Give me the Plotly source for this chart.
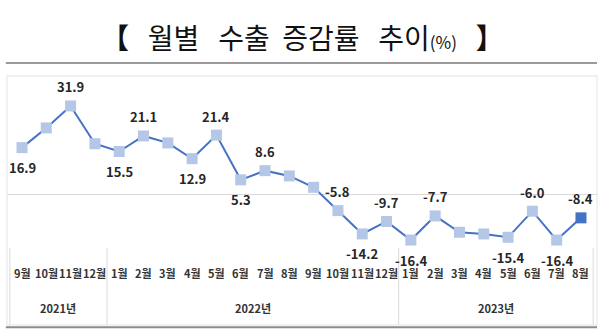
import plotly.graph_objects as go

months = ["9월", "10월", "11월", "12월",
          "1월", "2월", "3월", "4월", "5월", "6월", "7월", "8월", "9월", "10월", "11월", "12월",
          "1월", "2월", "3월", "4월", "5월", "6월", "7월", "8월"]
values = [16.9, 24.0, 31.9, 18.3,
          15.5, 21.1, 18.6, 12.9, 21.4, 5.3, 8.6, 6.7, 2.6, -5.8, -14.2, -9.7,
          -16.4, -7.7, -13.6, -14.2, -15.4, -6.0, -16.4, -8.4]
label_side = ["below", None, "above", None,
              "below", "above", None, "below", "above", "below", "above", None, None, "above", "below", "above",
              "below", "above", None, None, "below", "above", "below", "above"]
years = ["2021년", "2022년", "2023년"]
year_spans = [(0, 3), (4, 15), (16, 23)]

x = list(range(len(values)))
FONT = "Noto Sans CJK KR"

marker_colors = ["#b4c7e7"] * (len(values) - 1) + ["#4472c4"]

fig = go.Figure()
fig.add_trace(go.Scatter(
    x=x, y=values, mode="lines+markers",
    line=dict(color="#4472c4", width=2),
    marker=dict(symbol="square", size=11, color=marker_colors, line=dict(width=0)),
    hoverinfo="skip", cliponaxis=False,
))

annotations = []
for i, (v, side) in enumerate(zip(values, label_side)):
    if side is None:
        continue
    annotations.append(dict(
        x=i, y=v, xref="x", yref="y", text=f"{v:.1f}", showarrow=False,
        yshift=19 if side == "above" else -20,
        font=dict(family=FONT, size=13, color="#262626", weight="bold"),
    ))

# month labels
for i, m in enumerate(months):
    annotations.append(dict(
        x=i, y=0.209, xref="x", yref="paper", text=m, showarrow=False,
        yanchor="top", yshift=10,
        font=dict(family=FONT, size=11, color="#333333", weight="bold"),
    ))
# year labels
for (a, b), yl in zip(year_spans, years):
    annotations.append(dict(
        x=(a + b) / 2, y=0.072, xref="x", yref="paper", text=yl, showarrow=False,
        yanchor="top", yshift=9,
        font=dict(family=FONT, size=11, color="#333333", weight="bold"),
    ))

# title
sp = "&nbsp;"
annotations.append(dict(
    x=0.5, y=1.157, xref="paper", yref="paper", showarrow=False,
    text=("<b>【</b>" + sp * 3 + "월별" + sp * 3 + "수출" + sp * 2 + "증감률" + sp * 3 + "추이"
          + "<span style='font-size:17px'>(%)</span>" + sp * 3 + "<b>】</b>"),
    font=dict(family=FONT, size=28, color="#111111"),
    xanchor="center", yanchor="middle",
))

shapes = []
# separators
for sx in [-0.5, 3.5, 15.5, 23.5]:
    shapes.append(dict(type="line", xref="x", yref="paper", x0=sx, x1=sx, y0=0, y1=0.31,
                       line=dict(color="#d9d9d9", width=1)))
# plot box
shapes.append(dict(type="rect", xref="paper", yref="paper", x0=0, x1=1, y0=0, y1=1,
                   line=dict(color="#e3e3e3", width=1)))
# title underline and bottom rule
shapes.append(dict(type="line", xref="paper", yref="paper", x0=-0.002, x1=1.0, y0=1.052, y1=1.052,
                   line=dict(color="#9a9a9a", width=2)))
shapes.append(dict(type="line", xref="paper", yref="paper", x0=-0.002, x1=1.0, y0=-0.009, y1=-0.009,
                   line=dict(color="#8c8c8c", width=2)))

fig.update_layout(
    width=600, height=336,
    margin=dict(l=7, r=3, t=76, b=11),
    paper_bgcolor="white", plot_bgcolor="white",
    showlegend=False,
    xaxis=dict(range=[-0.617, 23.659], showgrid=False, zeroline=False, showticklabels=False,
               ticks="", showline=False, fixedrange=True),
    yaxis=dict(range=[-47.0, 42.7], showgrid=False, zeroline=True, zerolinecolor="#d9d9d9",
               zerolinewidth=1, showticklabels=False, ticks="", showline=False, fixedrange=True),
    annotations=annotations,
    shapes=shapes,
)

fig.write_html("out.html")
